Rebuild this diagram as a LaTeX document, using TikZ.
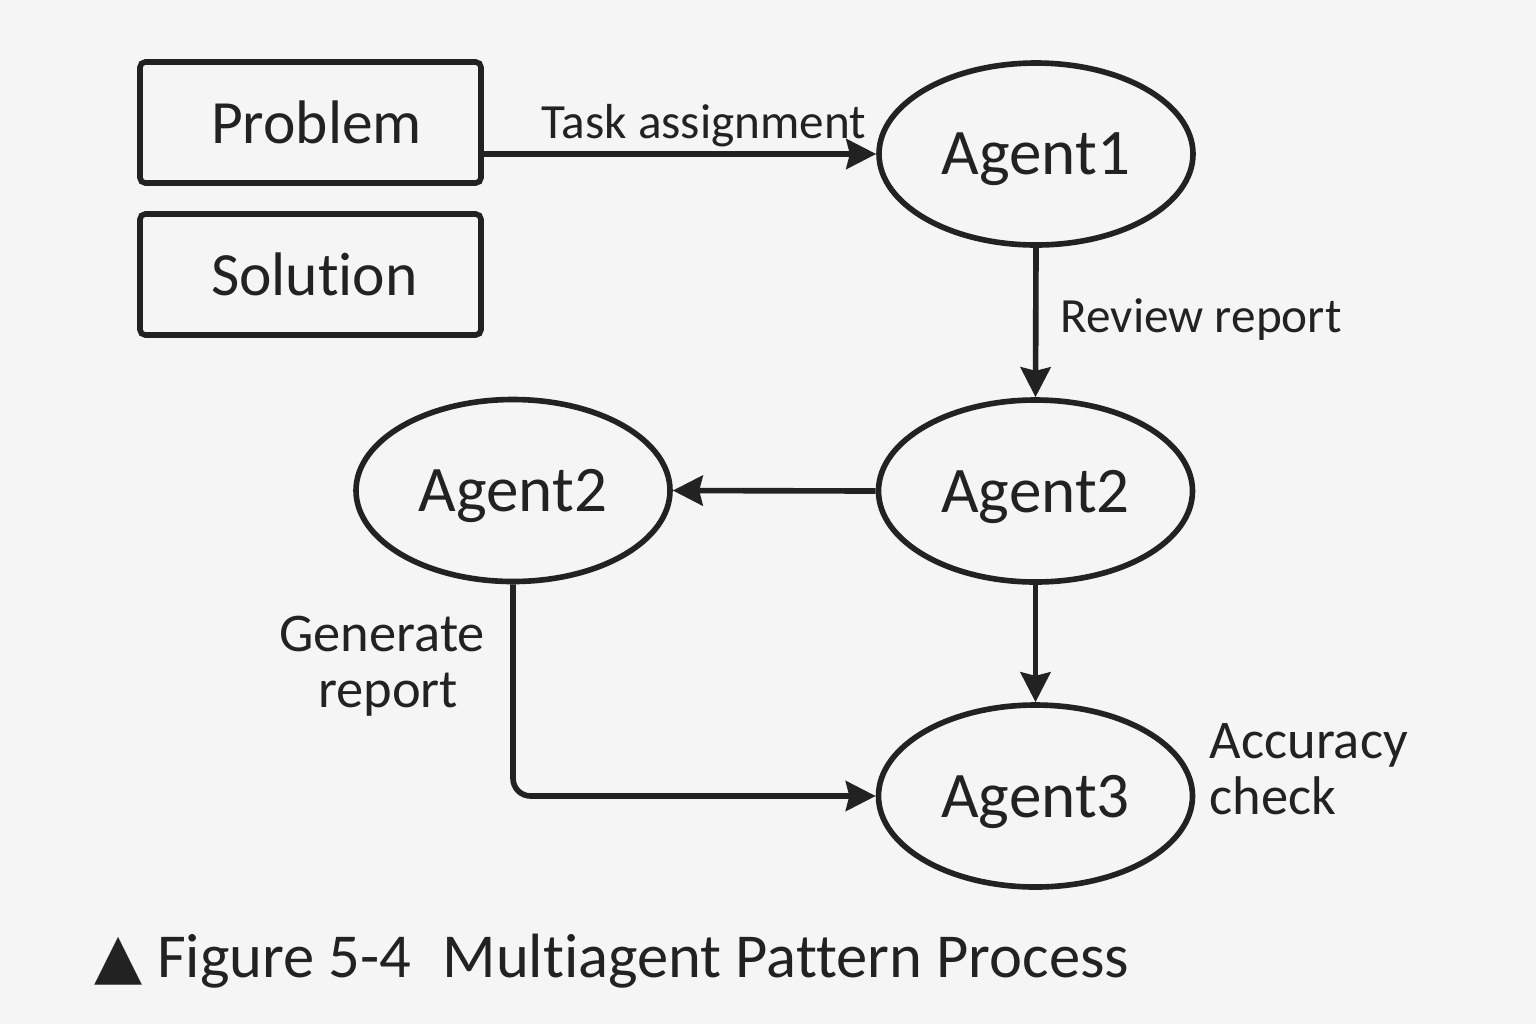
\documentclass[tikz,border=0pt]{standalone}
\usepackage{fontspec}
\setmainfont{Carlito}[Ligatures={NoCommon}]
\newfontfamily\symfont{DejaVu Sans}
\usetikzlibrary{arrows.meta,shapes.geometric}
\definecolor{ink}{HTML}{222222}
\definecolor{paper}{HTML}{F5F5F5}

\begin{document}
\begin{tikzpicture}[line width=1.6pt, color=ink,
  box/.style={draw, rectangle, rounded corners=1.5pt, minimum width=3.41cm, minimum height=1.21cm, inner sep=0pt, text depth=0pt, font=\fontsize{17.5}{20}\selectfont},
  agent/.style={draw, ellipse, minimum width=3.14cm, minimum height=1.82cm, inner sep=0pt, text depth=0pt, font=\fontsize{18.5}{22}\selectfont},
  flow/.style={-{Stealth[length=8.5pt,width=8.5pt,inset=1pt]}},
  lbl/.style={inner sep=0pt, font=\fontsize{14}{16}\selectfont},
  side/.style={inner sep=0pt, font=\fontsize{15.5}{16}\selectfont, align=center}]
\fill [paper] (0,0) rectangle (15.36,-10.24);
\useasboundingbox (0,0) rectangle (15.36,-10.24);
% boxes and agents
\node [box] (problem) at (3.105,-1.225) {\hspace*{0.12cm}Problem};
\node [box] (solution) at (3.105,-2.745) {\hspace*{0.08cm}Solution};
\node [agent] (agent1) at (10.36,-1.54) {Agent1};
\node [agent] (agent2r) at (10.355,-4.91) {Agent2};
\node [agent] (agent2l) at (5.13,-4.905) {Agent2};
\node [agent] (agent3) at (10.355,-7.96) {Agent3};
% connectors
\draw [flow] (problem.east |- agent1.west) -- (agent1.west);
\node [lbl, anchor=base] (tasklbl) at (7.04,-1.38) {Task assignment};
\draw [flow] (agent1.south) -- (agent2r.north);
\node [lbl, anchor=base west] (reviewlbl) at (10.58,-3.32) {Review report};
\draw [flow] (agent2r.west) -- (agent2l.east);
\draw [flow] (agent2r.south) -- (agent3.north);
\draw [flow, rounded corners=5pt] (agent2l.south) |- (agent3.west);
\node [side] (genlbl) at (3.82,-6.66) {Generate\\\hspace*{0.12cm}report};
\node [side, align=left, anchor=west] (acclbl) at (12.07,-7.69) {Accuracy\\check};
% caption
\node [inner sep=0pt, anchor=base west, font=\fontsize{17.8}{20}\selectfont] (caption) at (0.92,-9.77) {{\symfont ▲} Figure 5-4\enspace Multiagent Pattern Process};
\end{tikzpicture}
\end{document}
